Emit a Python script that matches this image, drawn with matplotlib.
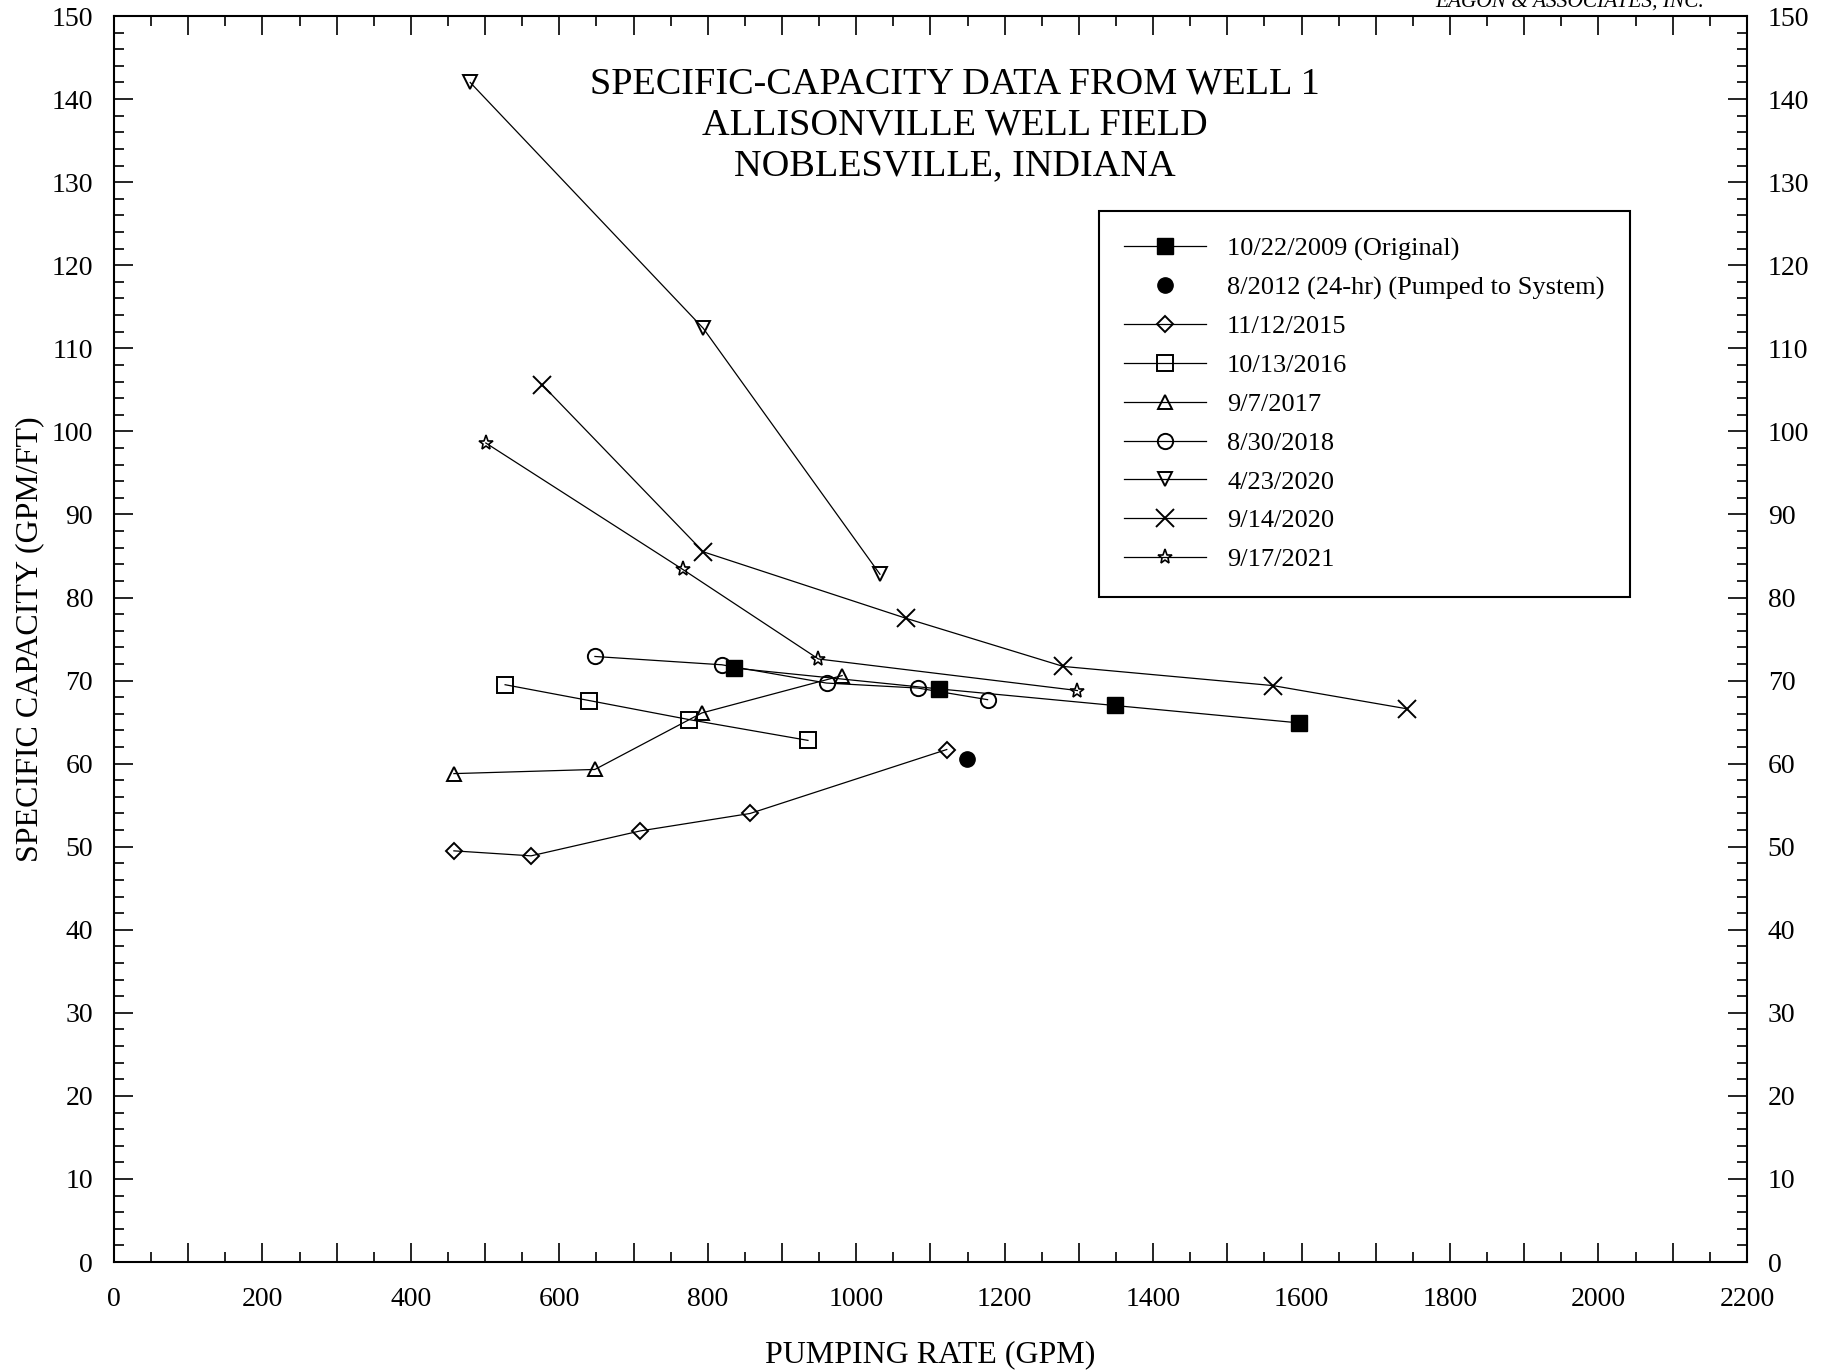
import matplotlib
matplotlib.use("Agg")
import matplotlib.pyplot as plt
from matplotlib.ticker import MultipleLocator, FuncFormatter

plt.rcParams['font.family'] = ['Liberation Serif', 'DejaVu Serif']

# data: pumping rate (GPM) and specific capacity (GPM/FT)
orig_2009_x = [836, 1111, 1348, 1597]
orig_2009_y = [71.5, 69.0, 67.0, 64.9]
pumped_2012_x = [1149]
pumped_2012_y = [60.6]
d2015_x = [458, 562, 709, 857, 1122]
d2015_y = [49.5, 48.9, 51.9, 54.0, 61.7]
d2016_x = [527, 640, 775, 935]
d2016_y = [69.5, 67.6, 65.3, 62.8]
d2017_x = [458, 648, 792, 981]
d2017_y = [58.8, 59.3, 66.1, 70.6]
d2018_x = [648, 819, 960, 1083, 1177]
d2018_y = [72.9, 71.9, 69.7, 69.1, 67.7]
d2020a_x = [480, 794, 1032]
d2020a_y = [142.0, 112.4, 82.8]
d2020b_x = [577, 794, 1067, 1279, 1561, 1742]
d2020b_y = [105.6, 85.5, 77.5, 71.7, 69.4, 66.6]
d2021_x = [501, 766, 949, 1298]
d2021_y = [98.6, 83.4, 72.6, 68.8]

labels = ["10/22/2009 (Original)", "8/2012 (24-hr) (Pumped to System)",
          "11/12/2015", "10/13/2016", "9/7/2017", "8/30/2018",
          "4/23/2020", "9/14/2020", "9/17/2021"]

fig = plt.figure(figsize=(18.26, 13.70), dpi=100)
ax = fig.add_axes([0.0624, 0.0788, 0.8943, 0.9095])

lw = 0.9
mew = 1.4
ax.plot(orig_2009_x, orig_2009_y, color='black', lw=lw, marker='s', ms=11.5,
        mfc='black', mec='black', label=labels[0])
ax.plot(pumped_2012_x, pumped_2012_y, color='black', lw=0, marker='o', ms=11,
        mfc='black', mec='black', label=labels[1])
ax.plot(d2015_x, d2015_y, color='black', lw=lw, marker='D', ms=8.5,
        mfc='none', mec='black', mew=mew, label=labels[2])
ax.plot(d2016_x, d2016_y, color='black', lw=lw, marker='s', ms=11,
        mfc='none', mec='black', mew=mew, label=labels[3])
ax.plot(d2017_x, d2017_y, color='black', lw=lw, marker='^', ms=10,
        mfc='none', mec='black', mew=mew, label=labels[4])
ax.plot(d2018_x, d2018_y, color='black', lw=lw, marker='o', ms=11,
        mfc='none', mec='black', mew=mew, label=labels[5])
ax.plot(d2020a_x, d2020a_y, color='black', lw=lw, marker='v', ms=10,
        mfc='none', mec='black', mew=mew, label=labels[6])
ax.plot(d2020b_x, d2020b_y, color='black', lw=lw, marker='x', ms=13,
        mfc='none', mec='black', mew=mew, label=labels[7])
ax.plot(d2021_x, d2021_y, color='black', lw=lw, marker='*', ms=11,
        mfc='none', mec='black', mew=1.2, label=labels[8])

ax.set_xlim(0, 2200)
ax.set_ylim(0, 150)

ax.xaxis.set_major_locator(MultipleLocator(100))
ax.xaxis.set_minor_locator(MultipleLocator(50))
ax.xaxis.set_major_formatter(FuncFormatter(
    lambda v, p: "%d" % v if int(round(v)) % 200 == 0 else ""))
ax.yaxis.set_major_locator(MultipleLocator(10))
ax.yaxis.set_minor_locator(MultipleLocator(2))

ax.tick_params(which='both', direction='in', top=True, right=True,
               labelright=True, width=1.2, colors='black')
ax.tick_params(which='major', length=14, labelsize=20)
ax.tick_params(which='minor', length=7)
ax.tick_params(axis='x', which='major', pad=18)
ax.tick_params(axis='y', which='major', pad=15)

for s in ax.spines.values():
    s.set_linewidth(1.5)
    s.set_color('black')

ax.set_xlabel("PUMPING RATE (GPM)", fontsize=23, labelpad=20)
ax.set_ylabel("SPECIFIC CAPACITY (GPM/FT)", fontsize=23, labelpad=5)

ax.text(0.515, 0.959, "SPECIFIC-CAPACITY DATA FROM WELL 1\nALLISONVILLE WELL FIELD\nNOBLESVILLE, INDIANA",
        transform=ax.transAxes, ha='center', va='top', fontsize=27.5, linespacing=1.23)

fig.text(0.933, 0.9955, "EAGON & ASSOCIATES, INC.", ha='right', va='baseline',
         fontsize=15.4, style='italic')

leg = ax.legend(loc='upper left', bbox_to_anchor=(0.603, 0.8435), borderaxespad=0,
                fontsize=19, frameon=True, fancybox=False, edgecolor='black',
                framealpha=1, borderpad=0.97, labelspacing=0.58, handlelength=3.1,
                handletextpad=0.8)
leg.get_frame().set_linewidth(1.5)

fig.savefig("out.png", dpi=100)
